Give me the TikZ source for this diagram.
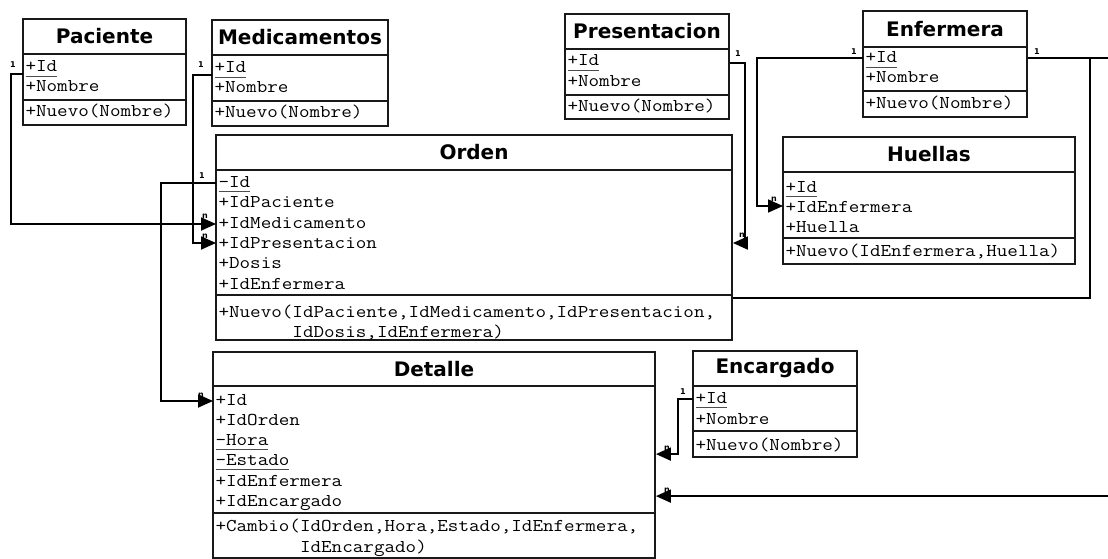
\documentclass[tikz,border=0pt]{standalone}
\usepackage{fontspec}
\usepackage{graphicx}
\newfontfamily\headfont{DejaVu Sans}
\usetikzlibrary{arrows.meta,fit,calc}

% member text: typewriter face, widened to the cell width of the class boxes
\newcommand\mtext[1]{\scalebox{1.14}[1]{#1}}

% underlined member (static / key field)
\newsavebox\undlbox
\newcommand\undl[1]{\sbox\undlbox{#1}\rlap{\color{black!70}\rule[-5pt]{\wd\undlbox}{1.1pt}}\usebox\undlbox}

% class box: name, x1, x2, top, title separator, member separator, bottom, title
\newcommand\umlclass[8]{%
  \node[classbox, fit={(#2,#4) (#3,#7)}] (#1) {};
  \draw[sepline] (#2,#5) -- (#3,#5) (#2,#6) -- (#3,#6);
  \node[classtitle] (#1-t) at ({(#2+#3)/2},{(#4+#5)/2}) {#8};
}

\tikzset{
  classbox/.style={draw=black!90, line width=1.8pt, inner sep=0pt},
  sepline/.style={draw=black!90, line width=1.8pt},
  classtitle/.style={inner sep=0pt, font=\headfont\bfseries\fontsize{20}{21}\selectfont},
  member/.style={anchor=west, inner xsep=2.5pt, inner ysep=0pt, outer sep=0pt,
    text height=11pt, text depth=3pt, font=\ttfamily\fontsize{18}{20}\selectfont},
  conn/.style={draw=black, line width=1.8pt},
  tocls/.style={conn, -{Triangle[length=15pt,width=13pt]}},
  mult/.style={inner sep=0pt, font=\headfont\bfseries\fontsize{8}{8}\selectfont},
}

\begin{document}
\begin{tikzpicture}[x=1pt, y=-1pt]
\clip (0,0) rectangle (1108,559);
\fill[white] (0,0) rectangle (1108,559);

% ---------- classes ----------
\umlclass{pac}{23}{186}{19}{54}{100}{125}{Paciente}
\node[member] (pacId)  at (23,68)  {\mtext{\undl{+Id}}};
\node[member] (pacNom) at (23,88)  {\mtext{+Nombre}};
\node[member] (pacNew) at (23,113) {\mtext{+Nuevo(Nombre)}};

\umlclass{med}{212}{388}{20}{55}{101}{126}{Medicamentos}
\node[member] (medId)  at (212,69)  {\mtext{\undl{+Id}}};
\node[member] (medNom) at (212,89)  {\mtext{+Nombre}};
\node[member] (medNew) at (212,114) {\mtext{+Nuevo(Nombre)}};

\umlclass{pre}{565}{729}{14}{49}{95}{119}{Presentacion}
\node[member] (preId)  at (565,62)  {\mtext{\undl{+Id}}};
\node[member] (preNom) at (565,83)  {\mtext{+Nombre}};
\node[member] (preNew) at (565,108) {\mtext{+Nuevo(Nombre)}};

\umlclass{enf}{863}{1027}{11}{47}{91}{117}{Enfermera}
\node[member] (enfId)  at (863,59)  {\mtext{\undl{+Id}}};
\node[member] (enfNom) at (863,79)  {\mtext{+Nombre}};
\node[member] (enfNew) at (863,105) {\mtext{+Nuevo(Nombre)}};

\umlclass{ord}{216}{732}{135}{170}{295}{340}{Orden}
\node[member] (ordId)  at (216,183) {\mtext{\undl{-Id}}};
\node[member] (ordPac) at (216,203) {\mtext{+IdPaciente}};
\node[member] (ordMed) at (216,224) {\mtext{+IdMedicamento}};
\node[member] (ordPre) at (216,244) {\mtext{+IdPresentacion}};
\node[member] (ordDos) at (216,264) {\mtext{+Dosis}};
\node[member] (ordEnf) at (216,285) {\mtext{+IdEnfermera}};
\node[member] (ordNew) at (216,313) {\mtext{+Nuevo(IdPaciente,IdMedicamento,IdPresentacion,}};
\node[member] (ordNw2) at (216,333) {\mtext{\phantom{+Nuevo(}IdDosis,IdEnfermera)}};

\umlclass{hue}{783}{1075}{137}{172}{238}{264}{Huellas}
\node[member] (hueId)  at (783,188) {\mtext{\undl{+Id}}};
\node[member] (hueEnf) at (783,208) {\mtext{+IdEnfermera}};
\node[member] (hueHue) at (783,228) {\mtext{+Huella}};
\node[member] (hueNew) at (783,252) {\mtext{+Nuevo(IdEnfermera,Huella)}};

\umlclass{det}{213}{655}{352}{386}{513}{558}{Detalle}
\node[member] (detId)  at (213,401) {\mtext{+Id}};
\node[member] (detOrd) at (213,421) {\mtext{+IdOrden}};
\node[member] (detHor) at (213,441) {\mtext{\undl{-Hora}}};
\node[member] (detEst) at (213,461) {\mtext{\undl{-Estado}}};
\node[member] (detEnf) at (213,482) {\mtext{+IdEnfermera}};
\node[member] (detEnc) at (213,502) {\mtext{+IdEncargado}};
\node[member] (detCam) at (213,527) {\mtext{+Cambio(IdOrden,Hora,Estado,IdEnfermera,}};
\node[member] (detCa2) at (213,548) {\mtext{\phantom{+Cambio(}IdEncargado)}};

\umlclass{enc}{693}{857}{351}{386}{431}{457}{Encargado}
\node[member] (encId)  at (693,399) {\mtext{\undl{+Id}}};
\node[member] (encNom) at (693,420) {\mtext{+Nombre}};
\node[member] (encNew) at (693,446) {\mtext{+Nuevo(Nombre)}};

% ---------- multiplicity "n" (partly under the arrow heads) ----------
\node[mult] (nOrdMed) at (205,216) {n};
\node[mult] (nOrdPre) at (205,236) {n};
\node[mult] (nOrdPr2) at (742,235) {n};
\node[mult] (nHueEnf) at (774,199) {n};
\node[mult] (nDetId)  at (201,395) {n};
\node[mult] (nDetEnc) at (667,448) {n};
\node[mult] (nDetEnf) at (667,490) {n};

% ---------- associations ----------
\coordinate (enfJoin) at (1090,58);
\coordinate (detEnc) at ($(det.north east)+(0,103)$);
\coordinate (detEnfR) at ($(det.north east)+(0,145)$);
\coordinate (ordEnfR) at ($(ord.south east)+(0,-43)$);

\draw[tocls] ([yshift=-6pt]pacId.west) -- ++(-12,0) |- (ordMed.west);
\draw[tocls] ([yshift=-6pt]medId.west) -- ++(-19,0) |- ([yshift=1pt]ordPre.west);
\draw[tocls] ($(pre.north east)+(0,50)$) -- ++(15,0) |- ([yshift=1pt]ord.east |- ordPre.west);
\draw[tocls] ([yshift=1pt]enfId.west) -- ++(-106,0) |- ([yshift=2pt]hueEnf.west);
\draw[conn]  (enf.east |- enfJoin) -- (enfJoin) |- (ordEnfR);
\draw[tocls] (enfJoin) -- ++(40,0) |- (detEnfR);
\draw[tocls] (ordId.west) -- ++(-55,0) |- (detId.west);
\draw[tocls] (encId.west) -- ++(-15,0) |- (detEnc);

% ---------- multiplicity "1" ----------
\node[mult] (oPac) at (13,65)   {1};
\node[mult] (oMed) at (201,65)  {1};
\node[mult] (oPre) at (738,54)  {1};
\node[mult] (oEnL) at (854,52)  {1};
\node[mult] (oEnR) at (1037,52) {1};
\node[mult] (oOrd) at (202,176) {1};
\node[mult] (oEnc) at (683,392) {1};
\end{tikzpicture}
\end{document}
